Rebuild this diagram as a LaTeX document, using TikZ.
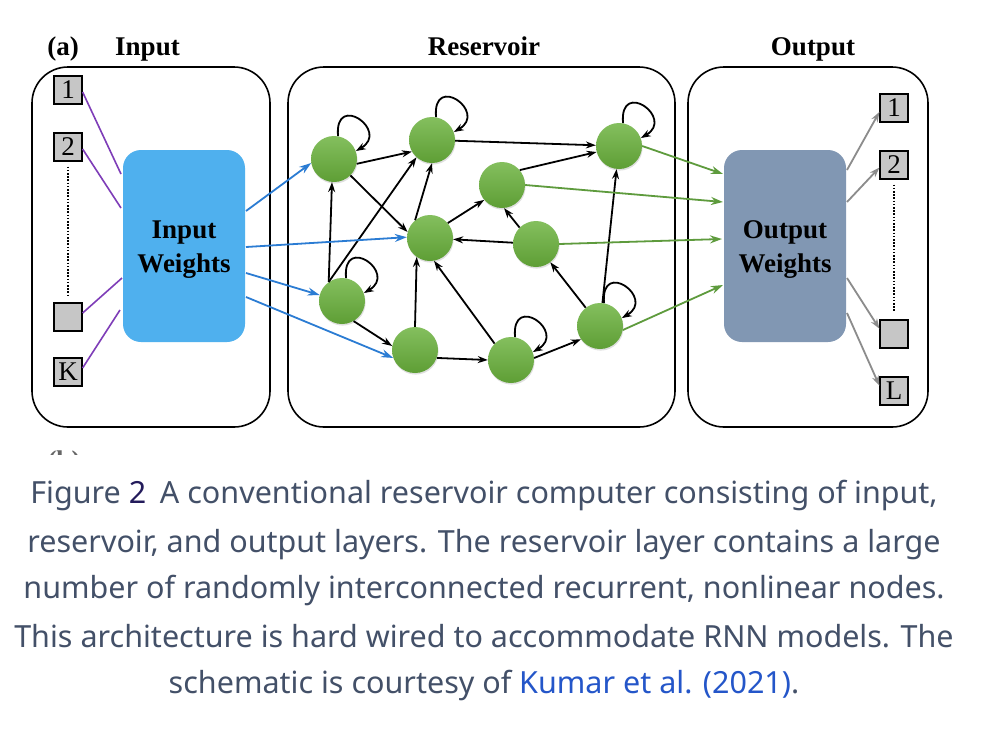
\documentclass[tikz,border=0pt]{standalone}
\usepackage{fontspec}
\setmainfont{Liberation Serif}
\newfontfamily\capfont{Noto Sans}
\usetikzlibrary{arrows.meta,shadows}
\definecolor{inblue}{HTML}{4FB0EE}
\definecolor{arrblue}{HTML}{2B7CD3}
\definecolor{outslate}{HTML}{8197B3}
\definecolor{inpurple}{HTML}{7E3DB8}
\definecolor{outgreen}{HTML}{5E9B3D}
\definecolor{outgray}{HTML}{8C8C8C}
\definecolor{sqgray}{HTML}{C6C6C6}
\definecolor{nodetop}{HTML}{84BF5E}
\definecolor{nodebot}{HTML}{5E9E35}
\definecolor{captext}{HTML}{435068}
\definecolor{capnum}{HTML}{231B5B}
\definecolor{caplink}{HTML}{2456C9}
\begin{document}
\begin{tikzpicture}[x=1pt,y=-1pt,
  panel/.style={draw=black,line width=1.6pt,rounded corners=36pt,inner sep=0pt},
  weightbox/.style={rounded corners=18pt,inner sep=0pt,minimum width=122pt,minimum height=192pt},
  wtext/.style={anchor=base,inner sep=0pt,font=\fontsize{27}{34}\selectfont\bfseries},
  sqbox/.style={draw=black,line width=1.2pt,fill=sqgray,minimum size=28pt,inner sep=0pt,
     font=\fontsize{27}{27}\selectfont},
  title/.style={anchor=base,font=\fontsize{27}{30}\selectfont\bfseries},
  rnode/.style={circle,minimum size=46pt,inner sep=0pt,top color=nodetop,bottom color=nodebot,
     drop shadow={opacity=0.25,shadow xshift=0.6pt,shadow yshift=-1.6pt}},
  edgearr/.style={line width=1.8pt,-{Stealth[length=10pt,width=7pt]}},
  inline/.style={draw=inpurple,line width=1.6pt},
  bluearr/.style={draw=arrblue,line width=1.8pt,-{Stealth[length=12pt,width=8pt]}},
  greenarr/.style={draw=outgreen,line width=1.8pt,-{Stealth[length=12pt,width=8pt]}},
  grayarr/.style={draw=outgray,line width=1.8pt,-{Stealth[length=10pt,width=7pt]}},
  dotline/.style={line width=1.6pt,dash pattern=on 1.6pt off 1.6pt},
  capline/.style={anchor=base,text=captext,font=\capfont\fontsize{30.5}{47}\selectfont,inner sep=0pt}
]
\useasboundingbox (0,0) rectangle (1002,740);
\fill[white] (0,0) rectangle (1002,740);

% titles
\node[title] (ta) at (63,55) {(a)};
\node[title] (tin) at (147.5,55) {Input};
\node[title] (tres) at (484,55) {Reservoir};
\node[title] (tout) at (813,55) {Output};

% panels
\node[panel,minimum width=238pt,minimum height=360pt] (pin) at (151,247) {};
\node[panel,minimum width=387pt,minimum height=360pt] (pres) at (481.5,247) {};
\node[panel,minimum width=240pt,minimum height=360pt] (pout) at (808,247) {};

% weight boxes
\node[weightbox,fill=inblue] (iw) at (184,246) {};
\node[wtext] (iwt1) at (184,238) {Input};
\node[wtext] (iwt2) at (184,272) {Weights};
\node[weightbox,fill=outslate] (ow) at (785,246) {};
\node[wtext] (owt1) at (785,238) {Output};
\node[wtext] (owt2) at (785,272) {Weights};

% input squares
\node[sqbox] (i1) at (68,90) {1};
\node[sqbox] (i2) at (68,147) {2};
\node[sqbox] (i3) at (68,317) {};
\node[sqbox] (ik) at (68,372) {K};
\draw[dotline] ([yshift=-5pt]i2.south) -- ([yshift=7pt]i3.north);

% output squares
\node[sqbox] (o1) at (894,108) {1};
\node[sqbox] (o2) at (894,165) {2};
\node[sqbox] (o3) at (894,334) {};
\node[sqbox] (ol) at (894,391) {L};
\draw[dotline] ([yshift=-5pt]o2.south) -- ([yshift=7pt]o3.north);

% input lines
\coordinate (ia1) at (121,174);
\coordinate (ia2) at (121,208);
\coordinate (ia3) at (122,278);
\coordinate (ia4) at (120,310);
\draw[inline] ([yshift=-2pt]i1.east) -- (ia1);
\draw[inline] ([yshift=-2pt]i2.east) -- (ia2);
\draw[inline] ([yshift=4pt]i3.east) -- (ia3);
\draw[inline] ([yshift=4pt]ik.east) -- (ia4);

% reservoir nodes
\node[rnode] (A) at (334,159) {};
\node[rnode] (B) at (432,140) {};
\node[rnode] (C) at (619,146) {};
\node[rnode] (D) at (502,185) {};
\node[rnode] (E) at (430,238) {};
\node[rnode] (F) at (536,244) {};
\node[rnode] (G) at (342,301) {};
\node[rnode] (H) at (415,350) {};
\node[rnode] (I) at (511,360) {};
\node[rnode] (J) at (600,326) {};

% self loops
\foreach \n in {A,B,C,G,I,J}{
  \draw[edgearr] (\n.80) .. controls +(-95:45) and +(-30:40) .. (\n.20);
}

% internal edges
\draw[edgearr] (A.-12) -- (B.210);
\draw[edgearr] (A.-45) -- (E.165);
\draw[edgearr] (G.125) -- (A.265);
\draw[edgearr] (G.125) -- (B.228);
\draw[edgearr] (E.130) -- (B.270);
\draw[edgearr] (E.40) -- (D.220);
\draw[edgearr] (F) -- (E);
\draw[edgearr] (F.135) -- (D.275);
\draw[edgearr] (B) -- (C);
\draw[edgearr] (D.40) -- (C.195);
\draw[edgearr] (G.-60) -- (H.170);
\draw[edgearr] (H.north) -- (E.235);
\draw[edgearr] (I.135) -- (E.280);
\draw[edgearr] (H.-20) -- (I.180);
\draw[edgearr] (I.5) -- (J.215);
\draw[edgearr] (J) -- (F);
\draw[edgearr] (J) -- (C);

% input weights to reservoir
\coordinate (iw1) at (246,211);
\coordinate (iw2) at (246,247);
\coordinate (iw3) at (246,273);
\coordinate (iw4) at (246,297);
\draw[bluearr] (iw1) -- (A.190);
\draw[bluearr] (iw2) -- (E.178);
\draw[bluearr] (iw3) -- (G.165);
\draw[bluearr] (iw4) -- (H.200);

% reservoir to output weights
\coordinate (ow1) at (723,174);
\coordinate (ow2) at (723,202);
\coordinate (ow3) at (722,239);
\coordinate (ow4) at (723,285);
\draw[greenarr] (C.east) -- (ow1);
\draw[greenarr] (D.east) -- (ow2);
\draw[greenarr] (F.east) -- (ow3);
\draw[greenarr] (J.-10) -- (ow4);

% output weights to outputs
\coordinate (os1) at (847,170);
\coordinate (os2) at (847,202);
\coordinate (os3) at (847,278);
\coordinate (os4) at (847,313);
\draw[grayarr] (os1) -- (o1.195);
\draw[grayarr] (os2) -- (o2.190);
\draw[grayarr] (os3) -- (o3.160);
\draw[grayarr] (os4) -- (ol.160);

% cut-off label of the next panel
\begin{scope}
  \clip (40,448) rectangle (90,454);
  \node[title,text=black!60] (tb) at (64,469) {(b)};
\end{scope}

% caption
\node[capline] (c1) at (484,503) {Figure {\color{capnum}2}\hspace{0.45em}A conventional reservoir computer consisting of input,};
\node[capline] (c2) at (484,552) {reservoir, and output layers. The reservoir layer contains a large};
\node[capline] (c3) at (484,598) {number of randomly interconnected recurrent, nonlinear nodes.};
\node[capline] (c4) at (484,647) {This architecture is hard wired to accommodate RNN models. The};
\node[capline] (c5) at (484,693) {schematic is courtesy of {\color{caplink}Kumar et al. (2021)}.};
\end{tikzpicture}
\end{document}
